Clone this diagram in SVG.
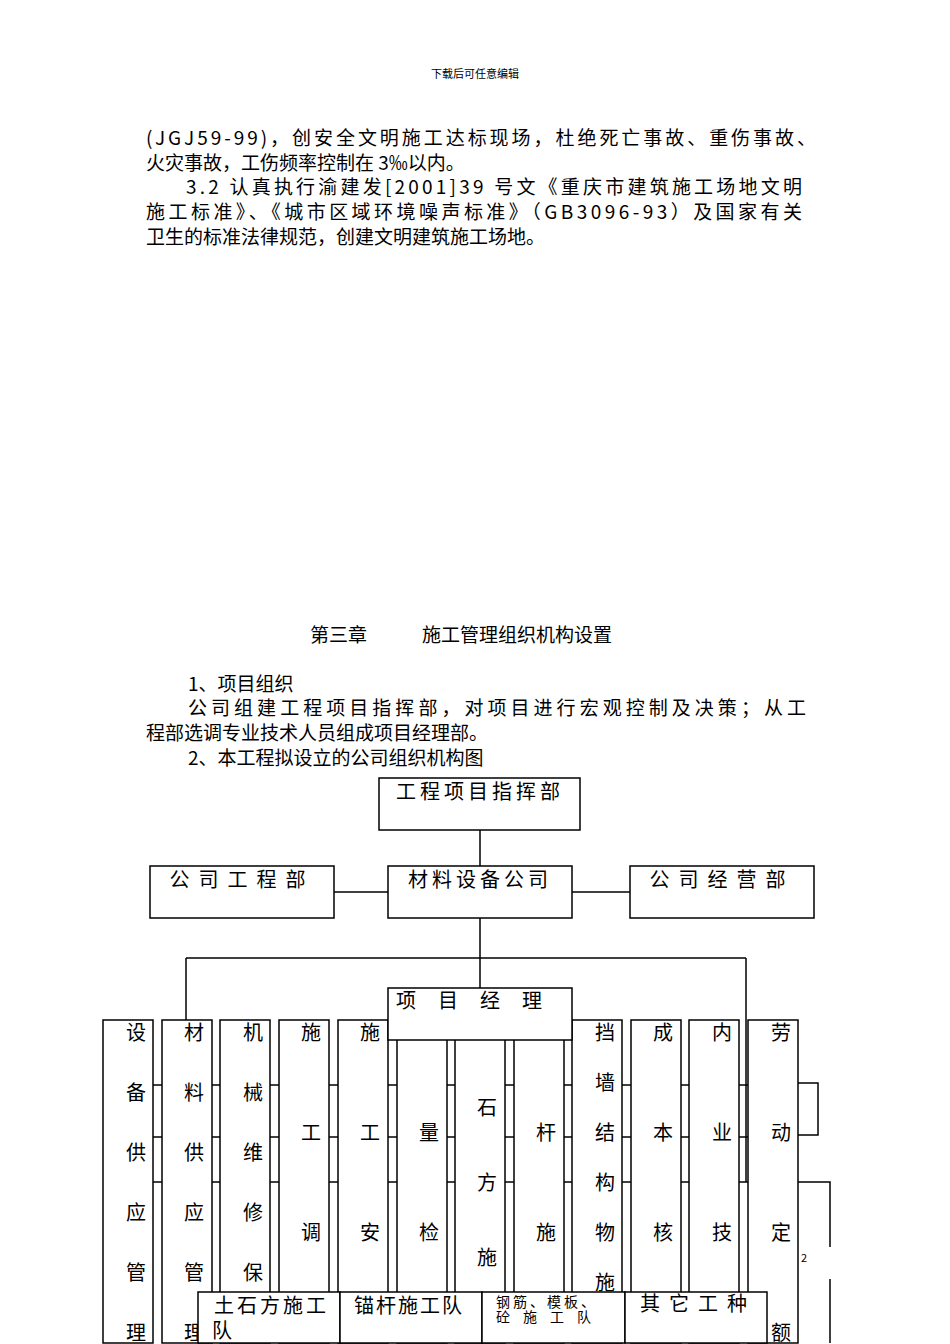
<svg xmlns="http://www.w3.org/2000/svg" width="950" height="1344" viewBox="0 0 950 1344">
<style>
text{font-family:"Noto Sans CJK SC","Liberation Serif",serif;fill:#000}
.p{font-size:19px}
.b{font-size:20px}
rect{fill:#fff;stroke:#000;stroke-width:1.5}
line,polyline{stroke:#000;stroke-width:1.5;fill:none}
</style>
<rect x="0" y="0" width="950" height="1344" style="stroke:none"/>
<text x="475" y="78" font-size="11" text-anchor="middle">下载后可任意编辑</text>
<text class="p" x="146" y="145" textLength="670" lengthAdjust="spacing">(JGJ59-99)，创安全文明施工达标现场，杜绝死亡事故、重伤事故、</text>
<text class="p" x="146" y="170">火灾事故，工伤频率控制在 3‰以内。</text>
<text class="p" x="186" y="194" textLength="616" lengthAdjust="spacing">3.2 认真执行渝建发[2001]39 号文《重庆市建筑施工场地文明</text>
<text class="p" x="146" y="219" textLength="656" lengthAdjust="spacing">施工标准》、《城市区域环境噪声标准》（GB3096-93）及国家有关</text>
<text class="p" x="146" y="244">卫生的标准法律规范，创建文明建筑施工场地。</text>
<text class="p" x="310" y="642">第三章</text>
<text class="p" x="422" y="642">施工管理组织机构设置</text>
<text class="p" x="188" y="691">1、项目组织</text>
<text class="p" x="188" y="715" textLength="618" lengthAdjust="spacing">公司组建工程项目指挥部，对项目进行宏观控制及决策；从工</text>
<text class="p" x="146" y="740">程部选调专业技术人员组成项目经理部。</text>
<text class="p" x="188" y="765">2、本工程拟设立的公司组织机构图</text>
<g id="connectors">
<line x1="480" y1="830" x2="480" y2="958"/>
<line x1="334" y1="892" x2="630" y2="892"/>
<line x1="186" y1="958" x2="746" y2="958"/>
<line x1="186" y1="958" x2="186" y2="1020"/>
<line x1="746" y1="958" x2="746" y2="1182"/>
<line x1="480" y1="958" x2="480" y2="988"/>
<line x1="103" y1="1085" x2="798" y2="1085"/>
<line x1="103" y1="1137" x2="798" y2="1137"/>
<line x1="103" y1="1182" x2="798" y2="1182"/>
<polyline points="798,1083 818,1083 818,1135 798,1135"/>
<polyline points="798,1182 830,1182 830,1247"/>
<line x1="830" y1="1279" x2="830" y2="1343"/>
</g>
<g id="n-top"><rect x="379" y="778" width="201" height="52"/><text class="b" x="480" y="799" text-anchor="middle" letter-spacing="4">工程项目指挥部</text></g>
<g id="n-gc"><rect x="150" y="866" width="184" height="52"/><text class="b" x="242" y="887" text-anchor="middle" letter-spacing="9">公司工程部</text></g>
<g id="n-cl"><rect x="388" y="866" width="184" height="52"/><text class="b" x="480" y="887" text-anchor="middle" letter-spacing="4">材料设备公司</text></g>
<g id="n-jy"><rect x="630" y="866" width="184" height="52"/><text class="b" x="722" y="887" text-anchor="middle" letter-spacing="9">公司经营部</text></g>
<g id="cols" font-size="20">
<rect x="103" y="1020" width="50" height="323"/><rect x="162" y="1020" width="50" height="323"/><rect x="220" y="1020" width="50" height="323"/><rect x="279" y="1020" width="50" height="323"/><rect x="338" y="1020" width="50" height="323"/><rect x="397" y="1020" width="50" height="323"/><rect x="455" y="1020" width="50" height="323"/><rect x="514" y="1020" width="50" height="323"/><rect x="572" y="1020" width="50" height="323"/><rect x="631" y="1020" width="50" height="323"/><rect x="689" y="1020" width="50" height="323"/><rect x="748" y="1020" width="50" height="323"/>
<text class="b" x="136" text-anchor="middle"><tspan y="1040">设</tspan><tspan x="136" y="1100">备</tspan><tspan x="136" y="1160">供</tspan><tspan x="136" y="1220">应</tspan><tspan x="136" y="1280">管</tspan><tspan x="136" y="1340">理</tspan></text>
<text class="b" x="194" text-anchor="middle"><tspan y="1040">材</tspan><tspan x="194" y="1100">料</tspan><tspan x="194" y="1160">供</tspan><tspan x="194" y="1220">应</tspan><tspan x="194" y="1280">管</tspan><tspan x="194" y="1340">理</tspan></text>
<text class="b" x="253" text-anchor="middle"><tspan y="1040">机</tspan><tspan x="253" y="1100">械</tspan><tspan x="253" y="1160">维</tspan><tspan x="253" y="1220">修</tspan><tspan x="253" y="1280">保</tspan></text>
<text class="b" x="311" text-anchor="middle"><tspan y="1040">施</tspan><tspan x="311" y="1140">工</tspan><tspan x="311" y="1240">调</tspan></text>
<text class="b" x="370" text-anchor="middle"><tspan y="1040">施</tspan><tspan x="370" y="1140">工</tspan><tspan x="370" y="1240">安</tspan></text>
<text class="b" x="429" text-anchor="middle"><tspan y="1140">量</tspan><tspan x="429" y="1240">检</tspan></text>
<text class="b" x="487" text-anchor="middle"><tspan y="1115">石</tspan><tspan x="487" y="1190">方</tspan><tspan x="487" y="1265">施</tspan></text>
<text class="b" x="546" text-anchor="middle"><tspan y="1140">杆</tspan><tspan x="546" y="1240">施</tspan></text>
<text class="b" x="605" text-anchor="middle"><tspan y="1040">挡</tspan><tspan x="605" y="1090">墙</tspan><tspan x="605" y="1140">结</tspan><tspan x="605" y="1190">构</tspan><tspan x="605" y="1240">物</tspan><tspan x="605" y="1290">施</tspan></text>
<text class="b" x="663" text-anchor="middle"><tspan y="1040">成</tspan><tspan x="663" y="1140">本</tspan><tspan x="663" y="1240">核</tspan></text>
<text class="b" x="722" text-anchor="middle"><tspan y="1040">内</tspan><tspan x="722" y="1140">业</tspan><tspan x="722" y="1240">技</tspan></text>
<text class="b" x="781" text-anchor="middle"><tspan y="1040">劳</tspan><tspan x="781" y="1140">动</tspan><tspan x="781" y="1240">定</tspan><tspan x="781" y="1340">额</tspan></text>
</g>
<text x="801" y="1262" font-size="11">2</text>
<g id="n-pm"><rect x="388" y="988" width="184" height="52"/><text class="b" x="480" y="1008" text-anchor="middle" letter-spacing="22">项目经理</text></g>
<g id="n-t1"><rect x="198" y="1292" width="142" height="51"/><text class="b" x="214" y="1313" letter-spacing="3">土石方施工</text><text class="b" x="212" y="1338">队</text></g>
<g id="n-t2"><rect x="340" y="1292" width="142" height="51"/><text class="b" x="354" y="1313" letter-spacing="2">锚杆施工队</text></g>
<g id="n-t3"><rect x="482" y="1292" width="143" height="51"/><text x="496" y="1307" font-size="14" letter-spacing="3">钢筋、模板、</text><text x="496" y="1322" font-size="14" letter-spacing="13">砼施工队</text></g>
<g id="n-t4"><rect x="625" y="1292" width="142" height="51"/><text class="b" x="640" y="1311" letter-spacing="9">其它工种</text></g>
</svg>
